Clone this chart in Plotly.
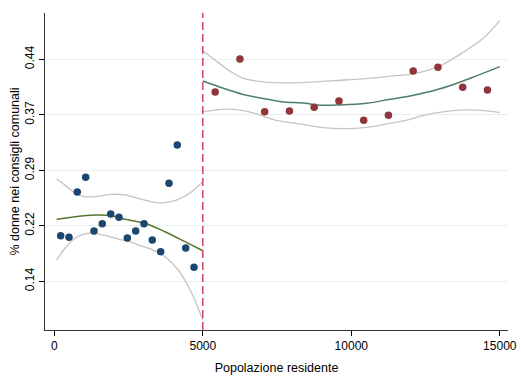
import plotly.graph_objects as go

# ---- data ----
CUTOFF = 5000

left_x = [215, 495, 774, 1057, 1337, 1616, 1899, 2178, 2458, 2741, 3020, 3300, 3582, 3862, 4141, 4424, 4704]
left_y = [0.2048, 0.2026, 0.2634, 0.2831, 0.2111, 0.2209, 0.2339, 0.2295, 0.2017, 0.2111,
          0.2209, 0.1990, 0.1833, 0.2751, 0.3265, 0.1883, 0.1624]

right_x = [5417, 6250, 7083, 7917, 8750, 9583, 10417, 11250, 12083, 12917, 13750, 14583]
right_y = [0.3976, 0.4419, 0.3712, 0.3721, 0.3771, 0.3855, 0.3596, 0.3663, 0.4258, 0.4308, 0.4039, 0.4003]

left_fit_x = [81, 697, 1370, 1933, 2380, 3054, 3727, 4401, 5000]
left_fit_y = [0.2268, 0.2303, 0.2325, 0.2316, 0.2268, 0.2214, 0.2101, 0.1967, 0.1846]

left_hi_x = [81, 360, 697, 1034, 1370, 1933, 2380, 2943, 3391, 3727, 4175, 4626, 5000]
left_hi_y = [0.2809, 0.2728, 0.2617, 0.2571, 0.2571, 0.2603, 0.2594, 0.2536, 0.2496, 0.2491, 0.2536, 0.2638, 0.2772]

left_lo_x = [81, 360, 697, 1034, 1259, 1707, 2155, 2549, 2828, 3279, 3727, 4175, 4626, 5000]
left_lo_y = [0.1722, 0.1879, 0.2013, 0.2071, 0.2080, 0.2053, 0.2003, 0.1967, 0.1923, 0.1865, 0.1766, 0.1587, 0.1275, 0.0916]

right_fit_x = [5000, 5636, 6310, 6983, 7657, 8441, 8946, 9620, 10519, 11303, 11976, 12929, 14054, 15000]
right_fit_y = [0.4124, 0.4034, 0.3949, 0.3892, 0.3846, 0.3825, 0.3798, 0.3802, 0.3825, 0.3878, 0.3922, 0.4012, 0.4168, 0.4316]

right_hi_x = [5000, 5411, 5859, 6310, 6758, 7431, 8350, 9394, 10519, 11414, 12067, 12929, 13717, 14502, 15000]
right_hi_y = [0.4530, 0.4406, 0.4271, 0.4168, 0.4124, 0.4101, 0.4101, 0.4128, 0.4155, 0.4191, 0.4218, 0.4316, 0.4496, 0.4718, 0.4933]

right_lo_x = [5000, 5636, 6195, 6758, 7431, 8273, 8946, 9845, 10519, 11192, 11976, 12481, 13155, 13828, 14502, 15000]
right_lo_y = [0.3712, 0.3744, 0.3735, 0.3690, 0.3600, 0.3547, 0.3502, 0.3484, 0.3502, 0.3547, 0.3610, 0.3667, 0.3712, 0.3735, 0.3725, 0.3698]

y_tickvals = [0.1435, 0.2180, 0.2925, 0.3670, 0.4415]
y_ticktext = ["0.14", "0.22", "0.29", "0.37", "0.44"]
x_tickvals = [0, 5000, 10000, 15000]
x_ticktext = ["0", "5000", "10000", "15000"]

# ---- figure ----
FONT = "Liberation Sans, Arial, sans-serif"
CI_COLOR = "#c4c4c4"

fig = go.Figure()

for xs, ys in [(left_hi_x, left_hi_y), (left_lo_x, left_lo_y),
               (right_hi_x, right_hi_y), (right_lo_x, right_lo_y)]:
    fig.add_trace(go.Scatter(x=xs, y=ys, mode="lines",
                             line=dict(color=CI_COLOR, width=1.3, shape="spline", smoothing=0.9),
                             hoverinfo="skip"))

fig.add_trace(go.Scatter(x=left_fit_x, y=left_fit_y, mode="lines",
                         line=dict(color="#55752f", width=1.5, shape="spline", smoothing=0.9)))
fig.add_trace(go.Scatter(x=right_fit_x, y=right_fit_y, mode="lines",
                         line=dict(color="#4f7d6c", width=1.5, shape="spline", smoothing=0.9)))

fig.add_trace(go.Scatter(x=left_x, y=left_y, mode="markers",
                         marker=dict(color="#1a476f", size=7.5, line=dict(width=0))))
fig.add_trace(go.Scatter(x=right_x, y=right_y, mode="markers",
                         marker=dict(color="#90353b", size=7.5, line=dict(width=0))))

fig.add_vline(x=CUTOFF, line=dict(color="#d0456f", width=1.5, dash="8px,4px"))

fig.update_layout(
    width=521, height=377,
    margin=dict(l=45, r=13, t=13, b=47),
    paper_bgcolor="white", plot_bgcolor="white",
    showlegend=False,
    font=dict(family=FONT, size=12, color="#000000"),
)

fig.update_xaxes(
    range=[-313, 15276],
    automargin=False,
    tickvals=x_tickvals, ticktext=x_ticktext,
    ticks="outside", ticklen=5, tickcolor="#000000", tickwidth=1,
    showline=True, linecolor="#333333", linewidth=1,
    showgrid=False, zeroline=False,
    title=dict(text="Popolazione residente", standoff=10, font=dict(size=12.5)),
    tickfont=dict(size=12),
)
fig.update_yaxes(
    range=[0.0782, 0.5036],
    automargin=False,
    tickvals=y_tickvals, ticktext=y_ticktext,
    tickangle=-90,
    ticks="outside", ticklen=5, tickcolor="#000000", tickwidth=1,
    showline=True, linecolor="#333333", linewidth=1,
    showgrid=True, gridcolor="#e6eff0", gridwidth=1,
    zeroline=False,
    title=dict(text="% donne nei consigli comunali", standoff=0, font=dict(size=12.5)),
    tickfont=dict(size=12),
)

fig.write_html("out.html", config={"displayModeBar": False},
               post_script="document.body.style.margin='0';document.body.style.overflow='hidden';")
